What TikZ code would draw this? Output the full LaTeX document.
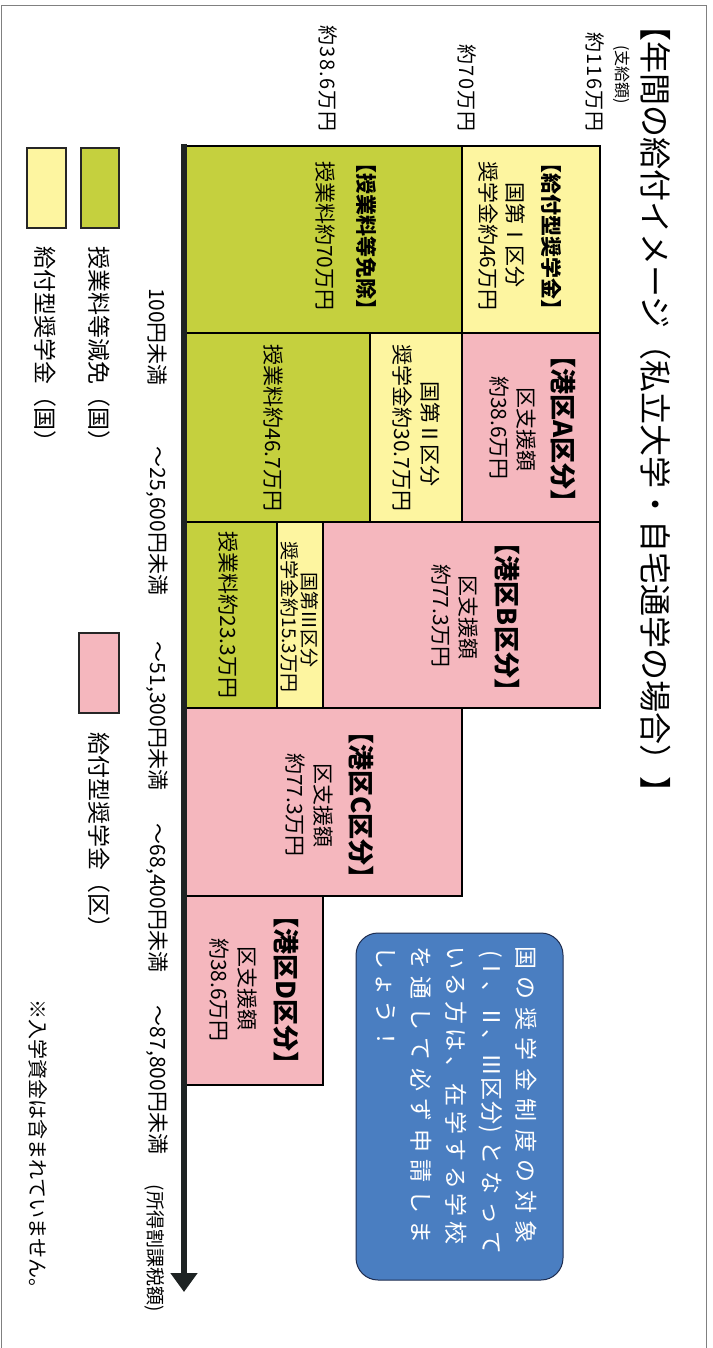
\documentclass[tikz,border=0pt]{standalone}
\usepackage{fontspec}
\setmainfont{Noto Sans CJK JP}
\usetikzlibrary{arrows.meta}
\definecolor{cgreen}{RGB}{197,208,62}
\definecolor{cyellow}{RGB}{253,245,160}
\definecolor{cpink}{RGB}{245,183,190}
\definecolor{cblue}{RGB}{74,126,193}
\definecolor{cblueline}{RGB}{30,45,80}
\definecolor{caxis}{RGB}{30,35,35}
\newcommand\fsz[1]{\fontsize{#1}{#1}\selectfont}
\newdimen\lskern
\newcommand\lsp[2]{\lskern=#1\relax\lsloop#2\relax}
\def\lsloop#1{\ifx\relax#1\else#1\kern\lskern\expandafter\lsloop\fi}
\tikzset{
  lbl/.style={rotate=-90, inner sep=0pt, text=black},
  bx/.style={draw=black, line width=1.3pt},
  lgbx/.style={draw=black!85, line width=1.6pt},
  hdr/.style={lbl, font=\bfseries\fsz{21}},
  phdr/.style={lbl, font=\bfseries\fsz{26}},
  body/.style={lbl, font=\fsz{21}},
}
\begin{document}
\begin{tikzpicture}[x=1pt,y=-1pt]
\useasboundingbox (0,0) rectangle (712,1348);
\fill[white] (0,0) rectangle (712,1348);
% frame
\draw[gray, line width=0.8pt] (1.5,1348) -- (1.5,5) -- (706,5) -- (706,1348);

% title and amount labels
\node[lbl, font=\fsz{32}] (title) at (656,409) {【年間の給付イメージ（私立大学・自宅通学の場合）】};
\node[lbl, font=\fsz{16}] (shikyu) at (622,75) {(支給額)};
\node[lbl, font=\fsz{20}, anchor=east] (a116) at (595,133) {\lsp{1.2pt}{約116万円}};
\node[lbl, font=\fsz{20}, anchor=east] (a70) at (467,133) {\lsp{1.2pt}{約70万円}};
\node[lbl, font=\fsz{20}, anchor=east] (a386) at (328,133) {\lsp{1.2pt}{約38.6万円}};

% chart boxes
\path[bx, fill=cgreen]  (183,146) rectangle (462,333);
\path[bx, fill=cyellow] (462,146) rectangle (600,333);
\path[bx, fill=cgreen]  (183,333) rectangle (370,522);
\path[bx, fill=cyellow] (370,333) rectangle (462,522);
\path[bx, fill=cpink]   (462,333) rectangle (600,522);
\path[bx, fill=cgreen]  (183,522) rectangle (277,708);
\path[bx, fill=cyellow] (277,522) rectangle (323,708);
\path[bx, fill=cpink]   (323,522) rectangle (600,708);
\path[bx, fill=cpink]   (183,708) rectangle (462,896);
\path[bx, fill=cpink]   (183,896) rectangle (323,1085);

% column 1
\node[hdr]  (g1h) at (367,237) {【授業料等免除】};
\node[body] (g1b) at (325,236) {授業料約70万円};
\node[hdr]  (y1h) at (552,237) {【給付型奨学金】};
\node[body] (y1b) at (515,235) {国第Ⅰ区分};
\node[body] (y1c) at (489,236) {奨学金約46万円};
% column 2
\node[body] (g2b) at (273,428) {授業料約46.7万円};
\node[body] (y2b) at (430,434) {国第Ⅱ区分};
\node[body] (y2c) at (403,428) {奨学金約30.7万円};
\node[phdr] (pAh) at (563,429) {【港区A区分】};
\node[body] (pAb) at (526,429) {区支援額};
\node[body] (pAc) at (499,428) {約38.6万円};
% column 3
\node[body] (g3b) at (228,615) {授業料約23.3万円};
\node[lbl, font=\fsz{19}] (y3b) at (310,620) {国第Ⅲ区分};
\node[lbl, font=\fsz{19}] (y3c) at (290,617) {奨学金約15.3万円};
\node[phdr] (pBh) at (507,617) {【港区B区分】};
\node[body] (pBb) at (468,617) {区支援額};
\node[body] (pBc) at (441,616) {約77.3万円};
% column 4
\node[phdr] (pCh) at (361,805) {【港区C区分】};
\node[body] (pCb) at (323,805) {区支援額};
\node[body] (pCc) at (295,805) {約77.3万円};
% column 5
\node[phdr] (pDh) at (286,990) {【港区D区分】};
\node[body] (pDb) at (247,988) {区支援額};
\node[body] (pDc) at (219,990) {約38.6万円};

% axis
\coordinate (axtop) at (184,144);
\coordinate (axend) at (184,1292);
\draw[line width=6pt, caxis, -{Triangle[length=19pt,width=26pt]}] (axtop) -- (axend);

% axis labels
\node[body] (t0) at (157,337) {100円未満};
\node[body] (t1) at (157,521) {～25,600円未満};
\node[body] (t2) at (157,716) {～51,300円未満};
\node[body] (t3) at (157,898) {～68,400円未満};
\node[body] (t4) at (157,1080) {～87,800円未満};
\node[lbl, font=\fsz{19}] (t5) at (155,1248) {(所得割課税額)};

% legend
\path[lgbx, fill=cgreen]  (81,148) rectangle (119,228);
\path[lgbx, fill=cyellow] (27,148) rectangle (66,228);
\path[lgbx, fill=cpink]   (79,633) rectangle (119,713);
\node[lbl, font=\fsz{23}, anchor=west] (lg) at (99,246) {授業料等減免（国）};
\node[lbl, font=\fsz{23}, anchor=west] (ly) at (45,246) {給付型奨学金（国）};
\node[lbl, font=\fsz{23}, anchor=west] (lp) at (99,732) {給付型奨学金（区）};

% note
\node[lbl, font=\fsz{20}, anchor=west] (note) at (38,999) {※入学資金は含まれていません。};

% blue box
\path[draw=cblueline, fill=cblue, line width=1pt, rounded corners=22pt] (356,933) rectangle (563,1280);
\node[lbl, font=\fsz{23}, text=white, anchor=west] (b1) at (526,946) {\lsp{7.5pt}{国の奨学金制度の対象}};
\node[lbl, font=\fsz{23}, text=white, anchor=west] (b2) at (491,950) {(\lsp{1pt}{Ⅰ、Ⅱ、Ⅲ区分})\kern8pt\lsp{7pt}{となって}};
\node[lbl, font=\fsz{23}, text=white, anchor=west] (b3) at (456,946) {\lsp{4.5pt}{いる方は、在学する学校}};
\node[lbl, font=\fsz{23}, text=white, anchor=west] (b4) at (421,946) {\lsp{7.5pt}{を通して必ず申請しま}};
\node[lbl, font=\fsz{23}, text=white, anchor=west] (b5) at (386,946) {\lsp{4pt}{しょう！}};
\end{tikzpicture}
\end{document}
